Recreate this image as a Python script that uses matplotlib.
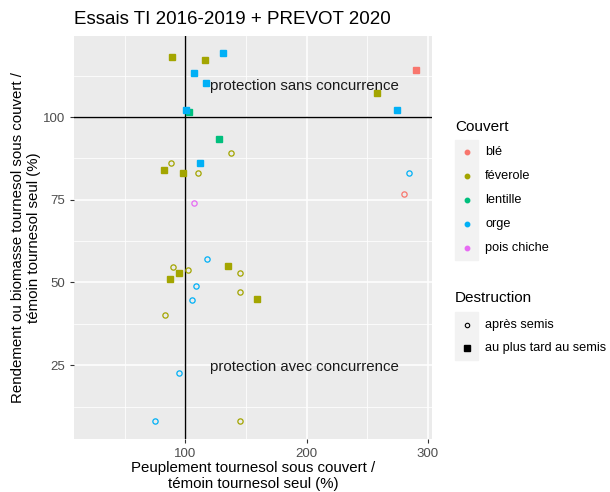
import matplotlib
matplotlib.use("Agg")
import matplotlib.pyplot as plt
from matplotlib.lines import Line2D
from matplotlib.patches import Rectangle
from matplotlib.ticker import MultipleLocator

plt.rcParams['font.family'] = ['Liberation Sans', 'DejaVu Sans']

couverts = ["blé", "féverole", "lentille", "orge", "pois chiche"]
colors = {"blé": "#F8766D", "féverole": "#A3A500", "lentille": "#00BF7D",
          "orge": "#00B0F6", "pois chiche": "#E76BF3"}
destructions = ["après semis", "au plus tard au semis"]

# peuplement % (x) and rendement % (y) per couvert / destruction
ble_x_sq = [289.8]; ble_y_sq = [114.2]
ble_x_ci = [279.9]; ble_y_ci = [76.8]
fev_x_sq = [89.0, 116.0, 257.7, 82.1, 97.8, 135.1, 95.0, 87.4, 159.0]
fev_y_sq = [118.2, 117.1, 107.2, 84.1, 83.1, 55.1, 53.0, 51.1, 45.0]
fev_x_ci = [137.6, 88.2, 110.2, 89.8, 102.4, 145.3, 145.3, 83.0, 145.3]
fev_y_ci = [89.1, 86.0, 83.1, 54.8, 53.9, 52.9, 47.0, 40.1, 8.0]
len_x_sq = [103.0, 128.0]; len_y_sq = [101.4, 93.3]
org_x_sq = [130.8, 106.9, 117.0, 100.8, 274.2, 112.1]
org_y_sq = [119.3, 113.2, 110.3, 102.1, 102.2, 86.2]
org_x_ci = [284.3, 117.8, 108.5, 105.2, 94.8, 75.3]
org_y_ci = [83.1, 57.0, 48.9, 44.7, 22.6, 8.0]
poi_x_ci = [106.9]; poi_y_ci = [74.0]

series = [
    ("blé", "sq", ble_x_sq, ble_y_sq), ("blé", "ci", ble_x_ci, ble_y_ci),
    ("féverole", "sq", fev_x_sq, fev_y_sq), ("féverole", "ci", fev_x_ci, fev_y_ci),
    ("lentille", "sq", len_x_sq, len_y_sq),
    ("orge", "sq", org_x_sq, org_y_sq), ("orge", "ci", org_x_ci, org_y_ci),
    ("pois chiche", "ci", poi_x_ci, poi_y_ci),
]

W, H = 610, 492
fig = plt.figure(figsize=(W/100, H/100), dpi=100)
L, R, T, B = 74, 432, 36, 439
ax = fig.add_axes([L/W, 1-B/H, (R-L)/W, (B-T)/H])
ax.set_facecolor("#EBEBEB")
ax.set_xlim(8.2, 303.4)
ax.set_ylim(2.7, 124.5)
ax.xaxis.set_major_locator(MultipleLocator(100))
ax.xaxis.set_minor_locator(MultipleLocator(50))
ax.yaxis.set_major_locator(MultipleLocator(25))
ax.yaxis.set_minor_locator(MultipleLocator(12.5))
ax.grid(which="major", color="white", linewidth=1.1)
ax.grid(which="minor", color="white", linewidth=0.55)
ax.set_axisbelow(True)
for s in ax.spines.values():
    s.set_visible(False)
ax.tick_params(which="major", length=3, color="#333333", labelcolor="#4D4D4D", labelsize=9.5, width=0.8)
ax.tick_params(which="minor", length=0)
ax.set_yticks([25, 50, 75, 100])
ax.set_xticks([100, 200, 300])

ax.axvline(100, color="black", linewidth=1.0, zorder=2)
ax.axhline(100, color="black", linewidth=1.0, zorder=2)

for c, kind, xs, ys in series:
    if kind == "sq":
        ax.plot(xs, ys, linestyle="none", marker="s", ms=4.2, color=colors[c], mec=colors[c], zorder=3)
    else:
        ax.plot(xs, ys, linestyle="none", marker="o", ms=3.8, mfc="none", mec=colors[c], mew=0.9, zorder=3)

ax.text(120.3, 109.3, "protection sans concurrence", ha="left", va="center", fontsize=10.8, color="#1A1A1A")
ax.text(120.3, 24.4, "protection avec concurrence", ha="left", va="center", fontsize=10.8, color="#1A1A1A")

fig.text(74/W, 1-20/H, "Essais TI 2016-2019 + PREVOT 2020", ha="left", va="center", fontsize=13.5, color="black")
fig.text((L+R)/2/W, 1-476/H, "Peuplement tournesol sous couvert /\ntémoin tournesol seul (%)",
         ha="center", va="center", fontsize=10.8, linespacing=1.15, color="black")
fig.text(26/W, 1-(T+B)/2/H, "Rendement ou biomasse tournesol sous couvert /\ntémoin tournesol seul (%)",
         ha="center", va="center", rotation=90, fontsize=10.8, linespacing=1.15, color="black")

# legends
def px(x, y):
    return x/W, 1-y/H
fig.text(*px(455, 127), "Couvert", ha="left", va="center", fontsize=11)
fig.patches.append(Rectangle(px(455, 260), 23/W, 120/H, transform=fig.transFigure, color="#F2F2F2", zorder=0))
for i, c in enumerate(couverts):
    y = 152 + 24*i
    fig.lines.append(Line2D([467/W], [1-y/H], transform=fig.transFigure, marker="o", ms=3.2,
                            color=colors[c], linestyle="none"))
    fig.text(*px(485, y), c, ha="left", va="center", fontsize=9.2, color="black")
fig.text(*px(455, 298), "Destruction", ha="left", va="center", fontsize=11)
fig.patches.append(Rectangle(px(455, 360), 23/W, 48/H, transform=fig.transFigure, color="#F2F2F2", zorder=0))
fig.lines.append(Line2D([467/W], [1-325/H], transform=fig.transFigure, marker="o", ms=3.2,
                        mfc="none", mec="black", mew=0.8, linestyle="none"))
fig.text(*px(485, 325), destructions[0], ha="left", va="center", fontsize=9.2)
fig.lines.append(Line2D([467/W], [1-348/H], transform=fig.transFigure, marker="s", ms=4,
                        color="black", linestyle="none"))
fig.text(*px(485, 348), destructions[1], ha="left", va="center", fontsize=9.2)

fig.savefig("out.png", dpi=100, facecolor="white")
